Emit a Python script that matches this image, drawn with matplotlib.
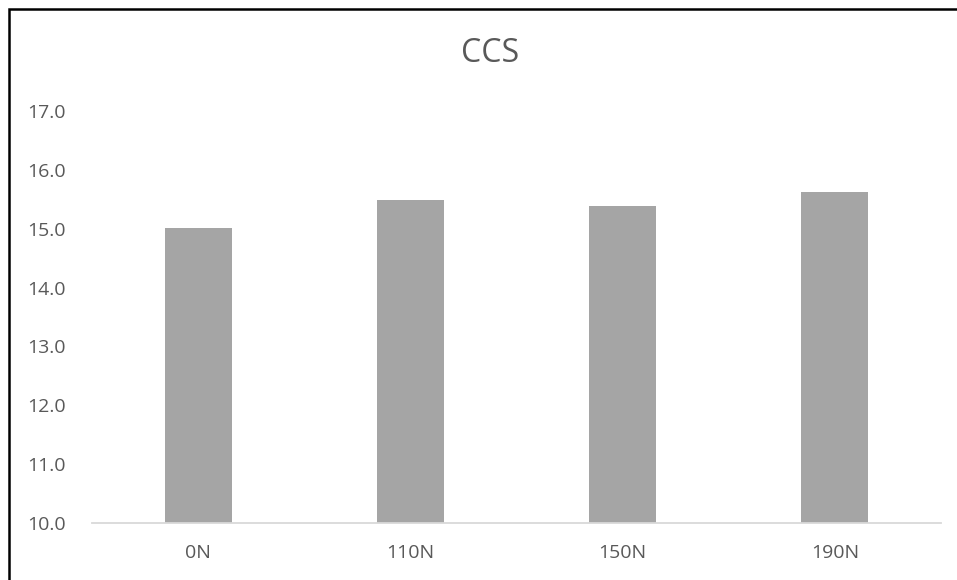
import matplotlib.pyplot as plt
from matplotlib.patches import Rectangle

categories = ["0N", "110N", "150N", "190N"]
values = [15.02, 15.48, 15.39, 15.63]
yticks = [10.0, 11.0, 12.0, 13.0, 14.0, 15.0, 16.0, 17.0]

W, H = 957, 580
fig = plt.figure(figsize=(W / 100, H / 100), dpi=100)
plt.rcParams['font.family'] = ['Open Sans', 'DejaVu Sans']

# axes placed to match the reference pixel positions
left, right, top, bottom = 92, 941, 111, 523
ax = fig.add_axes([left / W, 1 - bottom / H, (right - left) / W, (bottom - top) / H])

x = range(len(categories))
ax.bar(x, [v - 10 for v in values], bottom=10, width=0.315, color="#A5A5A5", zorder=2)

ax.set_xlim(-0.5, len(categories) - 0.5)
ax.set_ylim(10, 17)
ax.set_yticks(yticks)
ax.set_yticklabels(["%.1f" % t for t in yticks])
ax.set_xticks(list(x))
ax.set_xticklabels(categories)
ax.tick_params(axis="both", length=0, labelsize=14, colors="#595959")
ax.tick_params(axis="x", pad=15)
ax.tick_params(axis="y", pad=47)
for lab in ax.get_yticklabels():
    lab.set_horizontalalignment("left")

for s in ["top", "right", "left"]:
    ax.spines[s].set_visible(False)
ax.spines["bottom"].set_color("#D9D9D9")
ax.spines["bottom"].set_linewidth(1.3)

fig.text(490 / W, 1 - 53 / H, "CCS", ha="center", va="center", fontsize=23, color="#595959")

# outer black frame, right and bottom edges fall outside the picture
fig.patches.append(Rectangle((9 / W, -0.1), 1.1, 1 - 9 / H + 0.1,
                             transform=fig.transFigure, fill=False,
                             edgecolor="black", linewidth=1.8))

fig.savefig("out.png", dpi=100)
